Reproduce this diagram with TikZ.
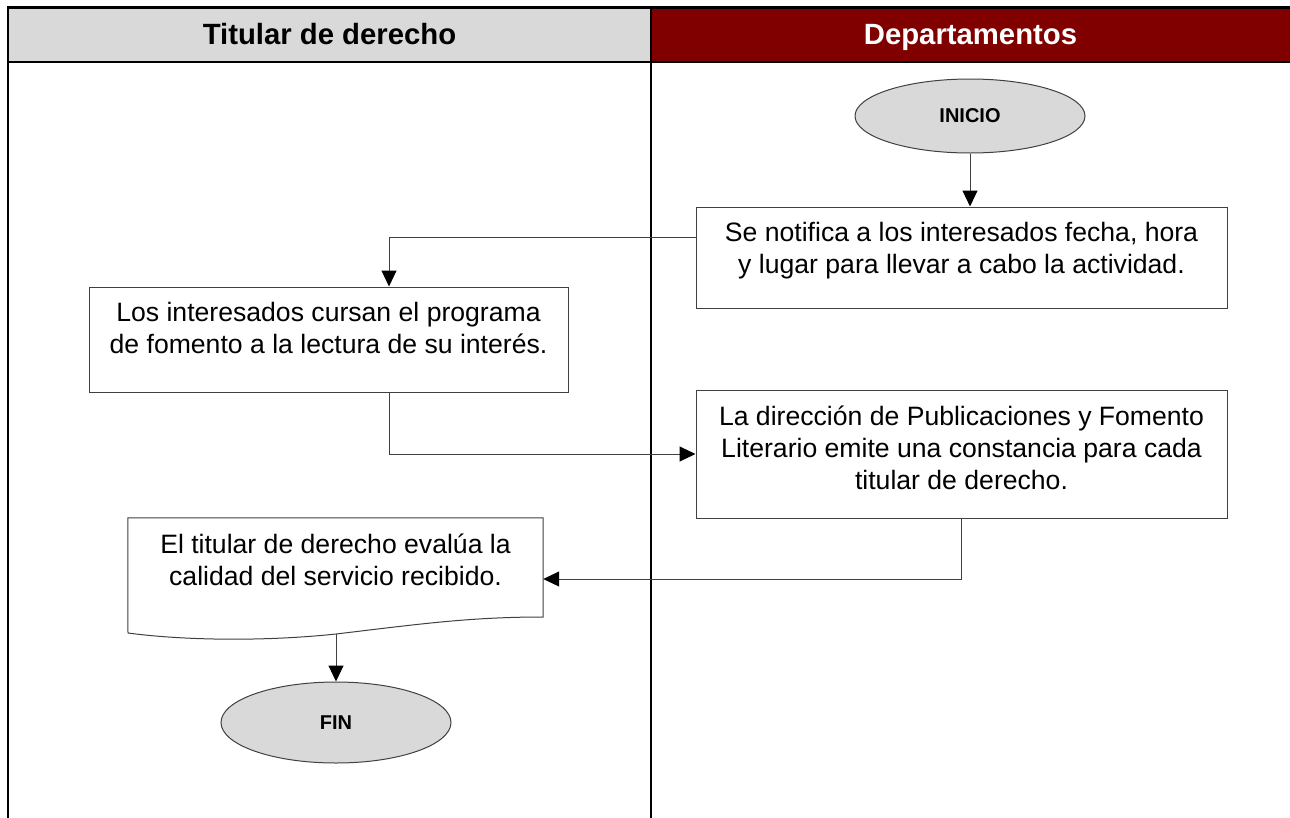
\documentclass[tikz,border=0pt]{standalone}
\usepackage{fontspec}
\setmainfont{Liberation Sans}
\usetikzlibrary{shapes.geometric,arrows.meta}
\definecolor{hdrgray}{HTML}{D9D9D9}
\definecolor{hdrred}{HTML}{800000}
\definecolor{edge}{HTML}{404040}
\begin{document}
\begin{tikzpicture}[x=1pt,y=-1pt,
  frame/.style={line width=2.5pt,black},
  hdrtext/.style={font=\fontsize{29.3}{34}\selectfont\bfseries,inner sep=0pt,anchor=base},
  proc/.style={rectangle,draw=edge,line width=1pt,fill=white,inner sep=0pt},
  term/.style={ellipse,draw=edge,line width=1pt,fill=hdrgray,inner sep=0pt,
    minimum width=230pt,minimum height=74pt,font=\fontsize{20}{24}\selectfont\bfseries},
  body/.style={align=center,inner sep=0pt,font=\fontsize{26.6}{32}\selectfont},
  conn/.style={draw=edge,line width=1pt,-{Triangle[length=16pt,width=15pt,color=black]}},
]
\useasboundingbox (0,0) rectangle (1290,817);
% header
\fill[hdrgray] (8,7.5) rectangle (651,62);
\fill[hdrred] (651,7.5) rectangle (1300,62);
\draw[frame] (8,7.5) -- (1300,7.5);
\draw[frame] (8,62) -- (1300,62);
\draw[frame] (8,6.25) -- (8,820);
\draw[frame] (651,7.5) -- (651,820);
\node[hdrtext] (h1) at (329.5,44.5) {Titular de derecho};
\node[hdrtext,text=white] (h2) at (970.5,44.5) {Departamentos};

% nodes
\node[term] (ini) at (970,116) {INICIO};
\node[proc,minimum width=531pt,minimum height=101pt] (b1) at (961.5,257.5) {};
\node[body,anchor=north] (t1) at ([yshift=-16pt]b1.north) {Se notifica a los interesados fecha, hora\\y lugar para llevar a cabo la actividad.};
\node[proc,minimum width=479pt,minimum height=105pt] (b2) at (328.5,339.5) {};
\node[body,anchor=north] (t2) at ([yshift=-16pt]b2.north) {Los interesados cursan el programa\\de fomento a la lectura de su interés.};
\node[proc,minimum width=531pt,minimum height=128pt] (b3) at (961.5,454) {};
\node[body,anchor=north] (t3) at ([yshift=-16pt]b3.north) {La dirección de Publicaciones y Fomento\\Literario emite una constancia para cada\\titular de derecho.};
% document shape
\node[rectangle,draw=none,minimum width=415pt,minimum height=122pt,inner sep=0pt] (b4) at (335.5,579) {};
\draw[edge,line width=1pt,fill=white] (b4.north west) -- (b4.north east) -- (543,617)
  .. controls (470,617) and (420,624) .. (336,634)
  .. controls (260,642) and (180,640) .. (128,633) -- cycle;
\node[body,anchor=north] (t4) at ([yshift=-16pt]b4.north) {El titular de derecho evalúa la\\calidad del servicio recibido.};
\coordinate (b4b) at (336,634);
\node[term,minimum height=81pt] (fin) at (336,722.5) {FIN};

% connectors
\draw[conn] (ini.south) -- (ini.south |- b1.north);
\draw[conn] (b1.west |- 0,237) -| (b2.north -| 389,0);
\draw[conn] (b2.south -| 389,0) |- (b3.west |- 0,454);
\draw[conn] (b3.south -| 961,0) |- (b4.east);
\draw[conn] (b4b) -- (fin);
\end{tikzpicture}
\end{document}
